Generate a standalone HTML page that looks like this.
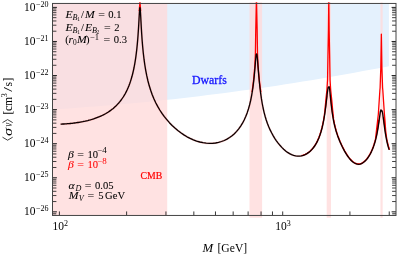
<!DOCTYPE html>
<html><head><meta charset="utf-8"><title>plot</title>
<style>
html,body{margin:0;padding:0;background:#fff;}
body{width:399px;height:258px;overflow:hidden;font-family:"Liberation Serif",serif;}
svg{display:block;will-change:transform;}
text{font-family:"Liberation Serif",serif;}
text{fill:#000;stroke:#000;stroke-width:0.07px;}
</style></head><body>
<svg width="399" height="258" viewBox="0 0 399 258">
<rect width="399" height="258" fill="#fff"/>
<path d="M52.5 3.45L52.5 109.5L61.1 108.9L69.8 108.4L78.4 107.7L87.0 107.1L95.6 106.5L104.3 105.8L112.9 105.0L121.5 104.3L130.1 103.5L138.8 102.7L147.4 101.9L156.0 101.0L164.6 100.1L173.3 99.2L181.9 98.2L190.5 97.2L199.1 96.2L207.8 95.1L216.4 94.0L225.0 92.9L233.6 91.8L242.3 90.6L250.9 89.4L259.5 88.2L268.1 86.9L276.8 85.7L285.4 84.3L294.0 83.0L302.6 81.6L311.3 80.2L319.9 78.8L328.5 77.3L337.1 75.8L345.8 74.3L354.4 72.7L363.0 71.1L371.6 69.5L380.3 67.9L388.9 66.2L388.9 3.45Z" fill="#e4f1fd"/>
<rect x="52.5" y="3.45" width="114.69999999999999" height="212.0" fill="#ffdada" fill-opacity="0.78"/>
<rect x="249.5" y="2.5" width="12.6" height="215.2" fill="#ffdada" fill-opacity="0.78"/>
<rect x="326.7" y="2.5" width="4.3" height="215.2" fill="#ffdada" fill-opacity="0.78"/>
<rect x="380.45" y="2.5" width="2.2" height="215.2" fill="#ffdada" fill-opacity="0.78"/>
<clipPath id="cp"><rect x="52.5" y="2.25" width="343.5" height="213.2"/></clipPath>
<g fill="none" stroke-linejoin="round" stroke-linecap="butt" clip-path="url(#cp)">
<path d="M60.60 124.1L60.79 124.1L61.13 124.1L61.57 124.1L62.09 124.1L62.68 124.0L63.33 124.0L64.03 124.0L64.79 123.9L65.59 123.9L66.44 123.8L67.32 123.7L68.25 123.7L69.21 123.6L70.20 123.5L71.22 123.4L72.27 123.3L73.35 123.1L74.45 123.0L75.58 122.9L76.73 122.7L77.90 122.5L79.09 122.3L80.29 122.1L81.51 121.9L82.74 121.7L83.99 121.4L85.25 121.2L86.52 120.9L87.80 120.6L89.08 120.2L90.38 119.9L91.67 119.5L92.97 119.1L94.27 118.7L95.58 118.2L96.88 117.7L98.18 117.2L99.48 116.7L100.78 116.1L102.07 115.5L103.35 114.9L104.63 114.2L105.90 113.5L107.16 112.7L108.40 112.0L109.64 111.1L110.87 110.2L112.08 109.3L113.28 108.4L114.46 107.3L115.62 106.3L116.77 105.1L117.90 103.9L119.00 102.7L120.09 101.4L121.16 100.0L122.20 98.5L123.23 97.0L124.22 95.4L125.20 93.7L126.14 91.9L127.07 90.0L127.96 88.0L128.83 85.9L129.67 83.7L130.48 81.4L131.26 78.9L132.01 76.3L132.73 73.5L133.41 70.6L134.07 67.5L134.69 64.2L135.28 60.7L135.84 56.9L136.36 52.9L136.85 48.7L137.31 44.1L137.72 39.3L138.11 34.3L138.46 29.1L138.77 23.9L139.04 19.0L139.28 14.7L139.49 11.4L139.65 9.2L139.78 8.1L139.88 7.7L139.93 7.6L139.95 7.6L139.95 7.6L139.95 7.6L139.95 7.6L139.96 7.6L139.97 7.6L139.99 7.6L140.02 7.7L140.06 7.8L140.13 8.2L140.22 9.0L140.35 10.5L140.51 13.1L140.72 16.8L140.98 21.6L141.29 27.4L141.67 33.7L142.13 40.2L142.67 46.7L143.29 53.0L144.01 59.2L144.83 65.0L145.76 70.6L146.80 75.9L147.96 81.0L149.25 85.8L150.67 90.3L152.22 94.7L153.90 98.8L155.72 102.7L157.68 106.4L159.77 110.0L161.99 113.4L164.34 116.7L166.82 119.7L169.41 122.7L172.12 125.5L174.93 128.1L177.83 130.5L180.82 132.8L183.88 134.9L186.99 136.8L190.16 138.4L193.36 139.9L196.59 141.1L199.81 142.0L203.04 142.7L206.24 143.2L209.41 143.4L212.52 143.3L215.58 143.0L218.57 142.4L221.47 141.5L224.28 140.5L226.99 139.1L229.58 137.5L232.06 135.7L234.41 133.7L236.63 131.4L238.72 128.9L240.68 126.1L242.50 123.2L244.18 120.0L245.73 116.6L247.15 112.9L248.44 109.0L249.60 104.9L250.64 100.5L251.57 95.8L252.39 91.0L253.11 86.0L253.73 80.9L254.27 75.8L254.73 70.8L255.11 66.3L255.42 62.3L255.68 59.3L255.89 57.1L256.05 55.7L256.18 54.9L256.27 54.5L256.34 54.3L256.38 54.2L256.41 54.2L256.43 54.2L256.44 54.2L256.45 54.2L256.45 54.2L256.45 54.2L256.45 54.2L256.45 54.2L256.45 54.2L256.45 54.2L256.45 54.2L256.46 54.2L256.47 54.1L256.49 54.1L256.52 54.0L256.56 54.0L256.62 54.0L256.70 54.1L256.80 54.3L256.93 54.9L257.09 56.0L257.28 57.8L257.52 60.3L257.80 63.7L258.13 67.9L258.52 72.7L258.97 77.8L259.48 83.2L260.05 88.5L260.70 93.7L261.42 98.7L262.22 103.5L263.10 108.0L264.06 112.3L265.10 116.2L266.23 120.0L267.44 123.5L268.74 126.8L270.12 129.9L271.58 132.8L273.11 135.6L274.72 138.3L276.40 140.8L278.14 143.1L279.94 145.3L281.79 147.4L283.69 149.2L285.63 150.9L287.59 152.4L289.58 153.6L291.57 154.6L293.58 155.3L295.57 155.8L297.56 156.1L299.52 156.1L301.46 155.8L303.36 155.3L305.21 154.6L307.01 153.6L308.75 152.4L310.43 151.0L312.04 149.4L313.57 147.5L315.03 145.5L316.41 143.2L317.71 140.6L318.92 137.9L320.05 134.8L321.09 131.5L322.05 128.0L322.93 124.2L323.73 120.1L324.45 115.9L325.10 111.5L325.67 107.2L326.18 102.9L326.63 99.0L327.02 95.5L327.35 92.7L327.63 90.5L327.87 89.0L328.06 88.0L328.22 87.5L328.35 87.3L328.45 87.2L328.53 87.3L328.59 87.3L328.63 87.4L328.66 87.5L328.68 87.5L328.69 87.6L328.70 87.6L328.70 87.6L328.70 87.6L328.70 87.6L328.70 87.6L328.70 87.6L328.70 87.6L328.70 87.6L328.70 87.6L328.71 87.5L328.72 87.5L328.73 87.4L328.75 87.3L328.78 87.1L328.82 87.0L328.88 86.8L328.95 86.6L329.05 86.6L329.16 86.8L329.31 87.3L329.48 88.3L329.69 89.8L329.93 92.0L330.21 94.8L330.54 98.1L330.91 101.7L331.33 105.5L331.80 109.4L332.33 113.3L332.91 117.0L333.55 120.6L334.26 124.0L335.02 127.2L335.84 130.2L336.73 133.1L337.67 135.9L338.68 138.6L339.74 141.3L340.87 143.8L342.04 146.3L343.27 148.7L344.54 151.1L345.85 153.3L347.20 155.5L348.59 157.4L350.00 159.2L351.44 160.7L352.88 162.0L354.34 163.0L355.81 163.7L357.27 164.2L358.71 164.3L360.15 164.1L361.56 163.6L362.95 162.8L364.30 161.8L365.61 160.6L366.88 159.1L368.11 157.5L369.28 155.7L370.41 153.7L371.47 151.6L372.48 149.3L373.42 146.9L374.31 144.3L375.13 141.6L375.89 138.7L376.60 135.6L377.24 132.4L377.82 129.2L378.35 125.9L378.82 122.6L379.24 119.6L379.61 116.9L379.94 114.6L380.22 112.7L380.46 111.4L380.67 110.6L380.84 110.1L380.99 109.9L381.10 110.0L381.20 110.1L381.27 110.3L381.33 110.5L381.37 110.6L381.40 110.8L381.42 110.9L381.43 110.9L381.44 111.0L381.45 111.0L381.45 111.0L381.45 111.0L381.45 111.0L381.45 111.0L381.46 111.0L381.48 110.9L381.51 110.8L381.55 110.8L381.61 110.7L381.68 110.6L381.76 110.6L381.85 110.6L381.95 110.7L382.07 111.0L382.20 111.4L382.34 111.9L382.49 112.6L382.65 113.5L382.82 114.6L383.00 115.9L383.20 117.3L383.40 118.8L383.61 120.4L383.83 122.1L384.06 123.9L384.30 125.7L384.54 127.5L384.80 129.3L385.06 131.1L385.32 132.8L385.60 134.5L385.88 136.1L386.16 137.7L386.45 139.2L386.75 140.7L387.04 142.1L387.35 143.4L387.65 144.6L387.96 145.8L388.27 146.9L388.58 147.9L388.89 148.9L389.20 149.8" stroke="#f00" stroke-width="1.9" stroke-opacity="0.22"/>
<path d="M301.42 155.7L303.31 155.2L305.14 154.4L306.93 153.5L308.66 152.3L310.33 150.9L311.93 149.3L313.45 147.4L314.91 145.4L316.28 143.1L317.57 140.6L318.78 137.8L319.90 134.8L320.95 131.5L321.91 127.9L322.78 124.1L323.58 120.1L324.30 115.8L324.95 111.5L325.53 107.1L326.03 102.9L326.48 99.0L326.87 95.5 M330.46 94.8L330.79 98.1L331.16 101.7L331.58 105.5L332.05 109.4L332.58 113.3L333.16 117.0L333.80 120.5L334.50 123.9L335.26 127.1L336.08 130.2L336.97 133.1L337.91 135.9L338.91 138.6L339.97 141.2L341.09 143.7L342.26 146.2L343.49 148.6L344.75 151.0L346.06 153.2L347.41 155.3L348.79 157.3L350.19 159.0L351.61 160.5L353.04 161.8L354.47 162.8L355.90 163.5L357.31 163.9L358.71 164.0L360.09 163.8L361.46 163.4L362.81 162.6L364.14 161.6L365.43 160.4L366.69 159.0L367.90 157.4L369.07 155.6L370.19 153.6L371.24 151.5L372.25 149.2L373.19 146.8L374.07 144.2L374.89 141.5L375.65 138.6L376.35 135.6L376.99 132.4L377.57 129.1L378.10 125.8L378.57 122.6L378.99 119.6 M383.57 117.2L383.78 118.7L383.99 120.4L384.21 122.1L384.44 123.8L384.68 125.6L384.92 127.4L385.17 129.2L385.43 131.0L385.70 132.7L385.97 134.4L386.25 136.1L386.54 137.7L386.82 139.2L387.12 140.6L387.41 142.0L387.72 143.3L388.02 144.5L388.32 145.7L388.63 146.8L388.94 147.8L389.25 148.8L389.56 149.7 M139.25 11.0L139.80 3.0L139.95 -4.0L140.10 3.0L140.65 11.0 M252.05 92.0L253.15 84.0L254.00 76.0L254.90 65.0L255.40 53.0L255.60 40.0L255.75 30.0L256.45 -3.0L257.15 30.0L257.30 40.0L257.50 53.0L258.00 65.0L258.90 76.0L259.75 84.0L260.85 92.0 M324.05 118.0L324.95 110.0L325.85 100.0L326.90 90.0L327.55 80.0L327.95 56.0L328.45 30.0L328.80 -3.0L329.15 30.0L329.65 56.0L330.05 80.0L330.70 90.0L331.75 100.0L332.65 110.0L333.55 118.0 M375.50 139.0L376.40 131.0L377.55 121.0L378.35 114.0L379.90 90.0L380.10 88.0L380.80 68.0L381.35 34.2L381.90 68.0L382.60 88.0L382.80 90.0L384.40 114.0L385.00 121.0L385.70 131.0L386.75 139.0" stroke="#f00" stroke-width="1.3"/>
<path d="M60.60 124.1L60.79 124.1L61.13 124.1L61.57 124.1L62.09 124.1L62.68 124.0L63.33 124.0L64.03 124.0L64.79 123.9L65.59 123.9L66.44 123.8L67.32 123.7L68.25 123.7L69.21 123.6L70.20 123.5L71.22 123.4L72.27 123.3L73.35 123.1L74.45 123.0L75.58 122.9L76.73 122.7L77.90 122.5L79.09 122.3L80.29 122.1L81.51 121.9L82.74 121.7L83.99 121.4L85.25 121.2L86.52 120.9L87.80 120.6L89.08 120.2L90.38 119.9L91.67 119.5L92.97 119.1L94.27 118.7L95.58 118.2L96.88 117.7L98.18 117.2L99.48 116.7L100.78 116.1L102.07 115.5L103.35 114.9L104.63 114.2L105.90 113.5L107.16 112.7L108.40 112.0L109.64 111.1L110.87 110.2L112.08 109.3L113.28 108.4L114.46 107.3L115.62 106.3L116.77 105.1L117.90 103.9L119.00 102.7L120.09 101.4L121.16 100.0L122.20 98.5L123.23 97.0L124.22 95.4L125.20 93.7L126.14 91.9L127.07 90.0L127.96 88.0L128.83 85.9L129.67 83.7L130.48 81.4L131.26 78.9L132.01 76.3L132.73 73.5L133.41 70.6L134.07 67.5L134.69 64.2L135.28 60.7L135.84 56.9L136.36 52.9L136.85 48.7L137.31 44.1L137.72 39.3L138.11 34.3L138.46 29.1L138.77 23.9L139.04 19.0L139.28 14.7L139.49 11.4L139.65 9.2L139.78 8.1L139.88 7.7L139.93 7.6L139.95 7.6L139.95 7.6L139.95 7.6L139.95 7.6L139.96 7.6L139.97 7.6L139.99 7.6L140.02 7.7L140.06 7.8L140.13 8.2L140.22 9.0L140.35 10.5L140.51 13.1L140.72 16.8L140.98 21.6L141.29 27.4L141.67 33.7L142.13 40.2L142.67 46.7L143.29 53.0L144.01 59.2L144.83 65.0L145.76 70.6L146.80 75.9L147.96 81.0L149.25 85.8L150.67 90.3L152.22 94.7L153.90 98.8L155.72 102.7L157.68 106.4L159.77 110.0L161.99 113.4L164.34 116.7L166.82 119.7L169.41 122.7L172.12 125.5L174.93 128.1L177.83 130.5L180.82 132.8L183.88 134.9L186.99 136.8L190.16 138.4L193.36 139.9L196.59 141.1L199.81 142.0L203.04 142.7L206.24 143.2L209.41 143.4L212.52 143.3L215.58 143.0L218.57 142.4L221.47 141.5L224.28 140.5L226.99 139.1L229.58 137.5L232.06 135.7L234.41 133.7L236.63 131.4L238.72 128.9L240.68 126.1L242.50 123.2L244.18 120.0L245.73 116.6L247.15 112.9L248.44 109.0L249.60 104.9L250.64 100.5L251.57 95.8L252.39 91.0L253.11 86.0L253.73 80.9L254.27 75.8L254.73 70.8L255.11 66.3L255.42 62.3L255.68 59.3L255.89 57.1L256.05 55.7L256.18 54.9L256.27 54.5L256.34 54.3L256.38 54.2L256.41 54.2L256.43 54.2L256.44 54.2L256.45 54.2L256.45 54.2L256.45 54.2L256.45 54.2L256.45 54.2L256.45 54.2L256.45 54.2L256.45 54.2L256.46 54.2L256.47 54.1L256.49 54.1L256.52 54.0L256.56 54.0L256.62 54.0L256.70 54.1L256.80 54.3L256.93 54.9L257.09 56.0L257.28 57.8L257.52 60.3L257.80 63.7L258.13 67.9L258.52 72.7L258.97 77.8L259.48 83.2L260.05 88.5L260.70 93.7L261.42 98.7L262.22 103.5L263.10 108.0L264.06 112.3L265.10 116.2L266.23 120.0L267.44 123.5L268.74 126.8L270.12 129.9L271.58 132.8L273.11 135.6L274.72 138.3L276.40 140.8L278.14 143.1L279.94 145.3L281.79 147.4L283.69 149.2L285.63 150.9L287.59 152.4L289.58 153.6L291.57 154.6L293.58 155.3L295.57 155.8L297.56 156.1L299.52 156.1L301.46 155.8L303.36 155.3L305.21 154.6L307.01 153.6L308.75 152.4L310.43 151.0L312.04 149.4L313.57 147.5L315.03 145.5L316.41 143.2L317.71 140.6L318.92 137.9L320.05 134.8L321.09 131.5L322.05 128.0L322.93 124.2L323.73 120.1L324.45 115.9L325.10 111.5L325.67 107.2L326.18 102.9L326.63 99.0L327.02 95.5L327.35 92.7L327.63 90.5L327.87 89.0L328.06 88.0L328.22 87.5L328.35 87.3L328.45 87.2L328.53 87.3L328.59 87.3L328.63 87.4L328.66 87.5L328.68 87.5L328.69 87.6L328.70 87.6L328.70 87.6L328.70 87.6L328.70 87.6L328.70 87.6L328.70 87.6L328.70 87.6L328.70 87.6L328.70 87.6L328.71 87.5L328.72 87.5L328.73 87.4L328.75 87.3L328.78 87.1L328.82 87.0L328.88 86.8L328.95 86.6L329.05 86.6L329.16 86.8L329.31 87.3L329.48 88.3L329.69 89.8L329.93 92.0L330.21 94.8L330.54 98.1L330.91 101.7L331.33 105.5L331.80 109.4L332.33 113.3L332.91 117.0L333.55 120.6L334.26 124.0L335.02 127.2L335.84 130.2L336.73 133.1L337.67 135.9L338.68 138.6L339.74 141.3L340.87 143.8L342.04 146.3L343.27 148.7L344.54 151.1L345.85 153.3L347.20 155.5L348.59 157.4L350.00 159.2L351.44 160.7L352.88 162.0L354.34 163.0L355.81 163.7L357.27 164.2L358.71 164.3L360.15 164.1L361.56 163.6L362.95 162.8L364.30 161.8L365.61 160.6L366.88 159.1L368.11 157.5L369.28 155.7L370.41 153.7L371.47 151.6L372.48 149.3L373.42 146.9L374.31 144.3L375.13 141.6L375.89 138.7L376.60 135.6L377.24 132.4L377.82 129.2L378.35 125.9L378.82 122.6L379.24 119.6L379.61 116.9L379.94 114.6L380.22 112.7L380.46 111.4L380.67 110.6L380.84 110.1L380.99 109.9L381.10 110.0L381.20 110.1L381.27 110.3L381.33 110.5L381.37 110.6L381.40 110.8L381.42 110.9L381.43 110.9L381.44 111.0L381.45 111.0L381.45 111.0L381.45 111.0L381.45 111.0L381.45 111.0L381.46 111.0L381.48 110.9L381.51 110.8L381.55 110.8L381.61 110.7L381.68 110.6L381.76 110.6L381.85 110.6L381.95 110.7L382.07 111.0L382.20 111.4L382.34 111.9L382.49 112.6L382.65 113.5L382.82 114.6L383.00 115.9L383.20 117.3L383.40 118.8L383.61 120.4L383.83 122.1L384.06 123.9L384.30 125.7L384.54 127.5L384.80 129.3L385.06 131.1L385.32 132.8L385.60 134.5L385.88 136.1L386.16 137.7L386.45 139.2L386.75 140.7L387.04 142.1L387.35 143.4L387.65 144.6L387.96 145.8L388.27 146.9L388.58 147.9L388.89 148.9L389.20 149.8" stroke="#0a0000" stroke-width="1.3"/>
</g>
<path d="M52.5 211.82h4.4M396.0 211.82h-4.4" stroke="#202020" stroke-width="1.0"/>
<path d="M52.5 201.56h3.9M396.0 201.56h-3.9" stroke="#202020" stroke-width="0.85"/>
<path d="M52.5 195.56h3.9M396.0 195.56h-3.9" stroke="#202020" stroke-width="0.85"/>
<path d="M52.5 191.31h3.9M396.0 191.31h-3.9" stroke="#202020" stroke-width="0.85"/>
<path d="M52.5 188.01h3.9M396.0 188.01h-3.9" stroke="#202020" stroke-width="0.85"/>
<path d="M52.5 185.31h3.9M396.0 185.31h-3.9" stroke="#202020" stroke-width="0.85"/>
<path d="M52.5 183.03h3.9M396.0 183.03h-3.9" stroke="#202020" stroke-width="0.85"/>
<path d="M52.5 181.05h3.9M396.0 181.05h-3.9" stroke="#202020" stroke-width="0.85"/>
<path d="M52.5 179.31h3.9M396.0 179.31h-3.9" stroke="#202020" stroke-width="0.85"/>
<path d="M52.5 177.75h4.4M396.0 177.75h-4.4" stroke="#202020" stroke-width="1.0"/>
<path d="M52.5 167.49h3.9M396.0 167.49h-3.9" stroke="#202020" stroke-width="0.85"/>
<path d="M52.5 161.49h3.9M396.0 161.49h-3.9" stroke="#202020" stroke-width="0.85"/>
<path d="M52.5 157.24h3.9M396.0 157.24h-3.9" stroke="#202020" stroke-width="0.85"/>
<path d="M52.5 153.94h3.9M396.0 153.94h-3.9" stroke="#202020" stroke-width="0.85"/>
<path d="M52.5 151.24h3.9M396.0 151.24h-3.9" stroke="#202020" stroke-width="0.85"/>
<path d="M52.5 148.96h3.9M396.0 148.96h-3.9" stroke="#202020" stroke-width="0.85"/>
<path d="M52.5 146.98h3.9M396.0 146.98h-3.9" stroke="#202020" stroke-width="0.85"/>
<path d="M52.5 145.24h3.9M396.0 145.24h-3.9" stroke="#202020" stroke-width="0.85"/>
<path d="M52.5 143.68h4.4M396.0 143.68h-4.4" stroke="#202020" stroke-width="1.0"/>
<path d="M52.5 133.42h3.9M396.0 133.42h-3.9" stroke="#202020" stroke-width="0.85"/>
<path d="M52.5 127.42h3.9M396.0 127.42h-3.9" stroke="#202020" stroke-width="0.85"/>
<path d="M52.5 123.17h3.9M396.0 123.17h-3.9" stroke="#202020" stroke-width="0.85"/>
<path d="M52.5 119.87h3.9M396.0 119.87h-3.9" stroke="#202020" stroke-width="0.85"/>
<path d="M52.5 117.17h3.9M396.0 117.17h-3.9" stroke="#202020" stroke-width="0.85"/>
<path d="M52.5 114.89h3.9M396.0 114.89h-3.9" stroke="#202020" stroke-width="0.85"/>
<path d="M52.5 112.91h3.9M396.0 112.91h-3.9" stroke="#202020" stroke-width="0.85"/>
<path d="M52.5 111.17h3.9M396.0 111.17h-3.9" stroke="#202020" stroke-width="0.85"/>
<path d="M52.5 109.61h4.4M396.0 109.61h-4.4" stroke="#202020" stroke-width="1.0"/>
<path d="M52.5 99.35h3.9M396.0 99.35h-3.9" stroke="#202020" stroke-width="0.85"/>
<path d="M52.5 93.35h3.9M396.0 93.35h-3.9" stroke="#202020" stroke-width="0.85"/>
<path d="M52.5 89.10h3.9M396.0 89.10h-3.9" stroke="#202020" stroke-width="0.85"/>
<path d="M52.5 85.80h3.9M396.0 85.80h-3.9" stroke="#202020" stroke-width="0.85"/>
<path d="M52.5 83.10h3.9M396.0 83.10h-3.9" stroke="#202020" stroke-width="0.85"/>
<path d="M52.5 80.82h3.9M396.0 80.82h-3.9" stroke="#202020" stroke-width="0.85"/>
<path d="M52.5 78.84h3.9M396.0 78.84h-3.9" stroke="#202020" stroke-width="0.85"/>
<path d="M52.5 77.10h3.9M396.0 77.10h-3.9" stroke="#202020" stroke-width="0.85"/>
<path d="M52.5 75.54h4.4M396.0 75.54h-4.4" stroke="#202020" stroke-width="1.0"/>
<path d="M52.5 65.28h3.9M396.0 65.28h-3.9" stroke="#202020" stroke-width="0.85"/>
<path d="M52.5 59.28h3.9M396.0 59.28h-3.9" stroke="#202020" stroke-width="0.85"/>
<path d="M52.5 55.03h3.9M396.0 55.03h-3.9" stroke="#202020" stroke-width="0.85"/>
<path d="M52.5 51.73h3.9M396.0 51.73h-3.9" stroke="#202020" stroke-width="0.85"/>
<path d="M52.5 49.03h3.9M396.0 49.03h-3.9" stroke="#202020" stroke-width="0.85"/>
<path d="M52.5 46.75h3.9M396.0 46.75h-3.9" stroke="#202020" stroke-width="0.85"/>
<path d="M52.5 44.77h3.9M396.0 44.77h-3.9" stroke="#202020" stroke-width="0.85"/>
<path d="M52.5 43.03h3.9M396.0 43.03h-3.9" stroke="#202020" stroke-width="0.85"/>
<path d="M52.5 41.47h4.4M396.0 41.47h-4.4" stroke="#202020" stroke-width="1.0"/>
<path d="M52.5 31.21h3.9M396.0 31.21h-3.9" stroke="#202020" stroke-width="0.85"/>
<path d="M52.5 25.21h3.9M396.0 25.21h-3.9" stroke="#202020" stroke-width="0.85"/>
<path d="M52.5 20.96h3.9M396.0 20.96h-3.9" stroke="#202020" stroke-width="0.85"/>
<path d="M52.5 17.66h3.9M396.0 17.66h-3.9" stroke="#202020" stroke-width="0.85"/>
<path d="M52.5 14.96h3.9M396.0 14.96h-3.9" stroke="#202020" stroke-width="0.85"/>
<path d="M52.5 12.68h3.9M396.0 12.68h-3.9" stroke="#202020" stroke-width="0.85"/>
<path d="M52.5 10.70h3.9M396.0 10.70h-3.9" stroke="#202020" stroke-width="0.85"/>
<path d="M52.5 8.96h3.9M396.0 8.96h-3.9" stroke="#202020" stroke-width="0.85"/>
<path d="M52.5 7.40h4.4M396.0 7.40h-4.4" stroke="#202020" stroke-width="1.0"/>
<path d="M52.5 213.38h3.8M396.0 213.38h-3.8" stroke="#202020" stroke-width="0.75"/>
<path d="M52.5 215.12h3.8M396.0 215.12h-3.8" stroke="#202020" stroke-width="0.75"/>
<path d="M59.40 215.45v-4.0" stroke="#222" stroke-width="0.9"/>
<path d="M126.62 215.45v-4.0" stroke="#222" stroke-width="0.9"/>
<path d="M165.94 215.45v-4.0" stroke="#222" stroke-width="0.9"/>
<path d="M193.84 215.45v-4.0" stroke="#222" stroke-width="0.9"/>
<path d="M215.48 215.45v-4.0" stroke="#222" stroke-width="0.9"/>
<path d="M233.16 215.45v-4.0" stroke="#222" stroke-width="0.9"/>
<path d="M248.11 215.45v-4.0" stroke="#222" stroke-width="0.9"/>
<path d="M261.06 215.45v-4.0" stroke="#222" stroke-width="0.9"/>
<path d="M272.48 215.45v-4.0" stroke="#222" stroke-width="0.9"/>
<path d="M282.70 215.45v-4.0" stroke="#222" stroke-width="0.9"/>
<path d="M349.92 215.45v-4.0" stroke="#222" stroke-width="0.9"/>
<path d="M389.24 215.45v-4.0" stroke="#222" stroke-width="0.9"/>
<rect x="52.5" y="3.45" width="343.5" height="212.0" fill="none" stroke="#444" stroke-width="1"/>
<filter id="idf" x="0" y="0" width="399" height="258" filterUnits="userSpaceOnUse"><feOffset dx="0" dy="0"/></filter>
<g filter="url(#idf)">
<text x="23.9" y="10.7" style="font-size:11.5px;stroke-width:0px;">10</text><text x="35.9" y="6.6" style="font-size:8.0px;stroke-width:0px;">−20</text>
<text x="23.9" y="44.8" style="font-size:11.5px;stroke-width:0px;">10</text><text x="35.9" y="40.7" style="font-size:8.0px;stroke-width:0px;">−21</text>
<text x="23.9" y="78.8" style="font-size:11.5px;stroke-width:0px;">10</text><text x="35.9" y="74.7" style="font-size:8.0px;stroke-width:0px;">−22</text>
<text x="23.9" y="112.9" style="font-size:11.5px;stroke-width:0px;">10</text><text x="35.9" y="108.8" style="font-size:8.0px;stroke-width:0px;">−23</text>
<text x="23.9" y="147.0" style="font-size:11.5px;stroke-width:0px;">10</text><text x="35.9" y="142.9" style="font-size:8.0px;stroke-width:0px;">−24</text>
<text x="23.9" y="181.1" style="font-size:11.5px;stroke-width:0px;">10</text><text x="35.9" y="177.0" style="font-size:8.0px;stroke-width:0px;">−25</text>
<text x="23.9" y="215.1" style="font-size:11.5px;stroke-width:0px;">10</text><text x="35.9" y="211.0" style="font-size:8.0px;stroke-width:0px;">−26</text>
<text x="52.4" y="229.7" style="font-size:11.5px;stroke-width:0px;">10</text>
<text x="63.9" y="225.6" style="font-size:8.0px;stroke-width:0px;">2</text>
<text x="275.3" y="229.7" style="font-size:11.5px;stroke-width:0px;">10</text>
<text x="286.8" y="225.6" style="font-size:8.0px;stroke-width:0px;">3</text>
<text transform="translate(202.6,251.6) scale(1.1,1)" style="font-size:11.6px;font-style:italic;stroke-width:0px;">M</text>
<text x="217.5" y="251.6" style="font-size:11.6px;stroke-width:0px;">[GeV]</text>
<g transform="translate(11.5,141) rotate(-90)"><path d="M3.8 -9.0L0.8 -3.9L3.8 1.2M18.4 -9.0L21.4 -3.9L18.4 1.2" fill="none" stroke="#000" stroke-width="0.75"/><text transform="translate(4.9,0) scale(1.32,1)" style="font-size:12.4px;stroke-width:0;font-style:italic;">σ</text><text transform="translate(14.2,0) scale(0.8,1)" style="font-size:11.6px;stroke-width:0;font-style:italic;">v</text><text transform="translate(26.6,0) scale(1.0,1)" style="font-size:11.6px;stroke-width:0;">[</text><text transform="translate(30.0,0) scale(1.0,1)" style="font-size:11.6px;stroke-width:0;">c</text><text transform="translate(35.0,0) scale(1.0,1)" style="font-size:11.6px;stroke-width:0;">m</text><text transform="translate(43.8,-4.4) scale(1.0,1)" style="font-size:8.0px;stroke-width:0;">3</text><text transform="translate(49.2,0) scale(1.45,1)" style="font-size:11.6px;stroke-width:0;">/</text><text transform="translate(54.6,0) scale(1.0,1)" style="font-size:11.6px;stroke-width:0;">s</text><text transform="translate(59.4,0) scale(1.0,1)" style="font-size:11.6px;stroke-width:0;">]</text></g>
<text transform="translate(65.5,17.9) scale(1.1,1)" style="font-size:10.6px;font-style:italic;">E</text>
<text transform="translate(72.6,20.0) scale(1.1,1)" style="font-size:7.4px;font-style:italic;stroke-width:0px;">B</text>
<text x="77.3" y="21.299999999999997" style="font-size:5.4px;stroke-width:0px;">1</text>
<text x="80.9" y="17.9" style="font-size:10.6px;">/</text>
<text transform="translate(85.1,17.9) scale(1.1,1)" style="font-size:10.6px;font-style:italic;">M</text>
<text transform="translate(98.2,17.9) scale(1.12,1)" style="font-size:10.6px;">=</text>
<text x="108.3" y="17.9" style="font-size:10.6px;">0.1</text>
<text transform="translate(65.5,30.8) scale(1.1,1)" style="font-size:10.6px;font-style:italic;">E</text>
<text transform="translate(72.6,32.9) scale(1.1,1)" style="font-size:7.4px;font-style:italic;stroke-width:0px;">B</text>
<text x="77.3" y="34.2" style="font-size:5.4px;stroke-width:0px;">1</text>
<text x="80.9" y="30.8" style="font-size:10.6px;">/</text>
<text transform="translate(85.0,30.8) scale(1.1,1)" style="font-size:10.6px;font-style:italic;">E</text>
<text transform="translate(92.1,32.9) scale(1.1,1)" style="font-size:7.4px;font-style:italic;stroke-width:0px;">B</text>
<text x="96.6" y="34.2" style="font-size:5.4px;stroke-width:0px;">2</text>
<text transform="translate(104.0,30.8) scale(1.12,1)" style="font-size:10.6px;">=</text>
<text x="114.3" y="30.8" style="font-size:10.6px;">2</text>
<text x="65.3" y="43.4" style="font-size:10.6px;">(</text>
<text transform="translate(68.6,43.4) scale(1.1,1)" style="font-size:10.6px;font-style:italic;">r</text>
<text x="72.9" y="44.8" style="font-size:7.4px;stroke-width:0px;">0</text>
<text transform="translate(76.9,43.4) scale(1.1,1)" style="font-size:10.6px;font-style:italic;">M</text>
<text x="86.0" y="43.4" style="font-size:10.6px;">)</text>
<text transform="translate(90.0,39.9) scale(1.1,1)" style="font-size:7.8px;stroke-width:0px;">−1</text>
<text transform="translate(103.5,43.4) scale(1.12,1)" style="font-size:10.6px;">=</text>
<text x="113.8" y="43.4" style="font-size:10.6px;">0.3</text>
<text transform="translate(67.9,157.6) scale(1.1,1)" style="font-size:10.6px;font-style:italic;">β</text>
<text transform="translate(77.3,157.6) scale(1.12,1)" style="font-size:10.6px;">=</text>
<text x="87.4" y="157.6" style="font-size:10.6px;">10</text>
<text transform="translate(97.3,153.2) scale(1.12,1)" style="font-size:8.0px;stroke-width:0px;">−4</text>
<text transform="translate(67.9,168.1) scale(1.1,1)" style="font-size:10.6px;font-style:italic;fill:#f00;stroke:#f00;">β</text>
<text transform="translate(77.3,168.1) scale(1.12,1)" style="font-size:10.6px;fill:#f00;stroke:#f00;">=</text>
<text x="87.4" y="168.1" style="font-size:10.6px;fill:#f00;stroke:#f00;">10</text>
<text transform="translate(97.3,163.7) scale(1.12,1)" style="font-size:8.0px;fill:#f00;stroke:#f00;stroke-width:0px;">−8</text>
<text transform="translate(68.6,189.3) scale(1.1,1)" style="font-size:10.6px;font-style:italic;">α</text>
<text transform="translate(75.4,191.10000000000002) scale(1.1,1)" style="font-size:7.4px;font-style:italic;stroke-width:0px;">D</text>
<text transform="translate(84.7,189.3) scale(1.12,1)" style="font-size:10.6px;">=</text>
<text x="95.0" y="189.3" style="font-size:10.6px;">0.05</text>
<text transform="translate(68.7,199.0) scale(1.1,1)" style="font-size:10.6px;font-style:italic;">M</text>
<text transform="translate(78.8,200.9) scale(1.1,1)" style="font-size:7.4px;font-style:italic;stroke-width:0px;">V</text>
<text transform="translate(87.6,199.0) scale(1.12,1)" style="font-size:10.6px;">=</text>
<text x="98.2" y="199.0" style="font-size:10.6px;">5</text>
<text x="105.1" y="199.0" style="font-size:10.6px;">GeV</text>
<text x="140.5" y="179.3" style="font-size:9.8px;fill:#f00;stroke:#f00;stroke-width:0.2px;">CMB</text>
<text x="192.0" y="83.5" style="font-size:11.8px;fill:#1414ff;stroke:#1414ff;stroke-width:0.3px;">Dwarfs</text>
</g>
</svg>
</body></html>
